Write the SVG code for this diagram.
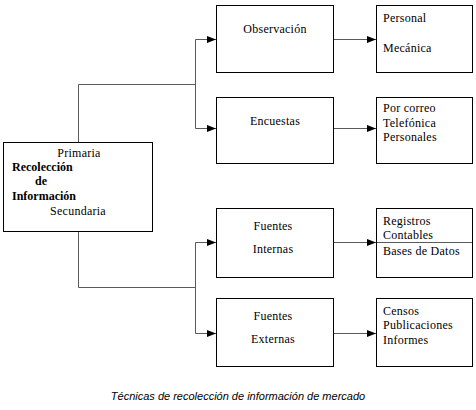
<svg xmlns="http://www.w3.org/2000/svg" width="476" height="410" viewBox="0 0 476 410">
<style>
.box{fill:#fff;stroke:#000;stroke-width:1}
.ln{fill:none;stroke:#5a5a5a;stroke-width:1}
.t{font-family:'Liberation Serif','Times New Roman',serif;font-size:12px;letter-spacing:0.25px;fill:#000}
.b{font-weight:bold;letter-spacing:0}
.c{text-anchor:middle}
.cap{font-family:'Liberation Sans',Arial,sans-serif;font-size:11px;font-style:italic;fill:#000}
</style>
<defs>
<marker id="ah" markerUnits="userSpaceOnUse" markerWidth="10" markerHeight="8" refX="9" refY="4" orient="auto">
<path d="M0,0.5 L9,4 L0,7.5 Z" fill="#000"/>
</marker>
</defs>
<rect width="476" height="410" fill="#fff"/>
<g id="connectors">
<path class="ln" d="M78.5,142 V84.5 H195.5"/>
<path class="ln" d="M195.5,39.5 V128.5"/>
<path class="ln" d="M195.5,39.5 H216" marker-end="url(#ah)"/>
<path class="ln" d="M195.5,128.5 H216" marker-end="url(#ah)"/>
<path class="ln" d="M78.5,232 V287.5 H195.5"/>
<path class="ln" d="M195.5,242.5 V333.5"/>
<path class="ln" d="M195.5,242.5 H216" marker-end="url(#ah)"/>
<path class="ln" d="M195.5,333.5 H216" marker-end="url(#ah)"/>
<path class="ln" d="M333,39.5 H376" marker-end="url(#ah)"/>
<path class="ln" d="M333,128.5 H376" marker-end="url(#ah)"/>
<path class="ln" d="M333,242.5 H376" marker-end="url(#ah)"/>
<path class="ln" d="M333,333.5 H376" marker-end="url(#ah)"/>
</g>
<g id="recoleccion">
<rect class="box" x="3.5" y="142.5" width="149" height="89"/>
<text class="t c" x="79" y="157">Primaria</text>
<text class="t b" x="12" y="171">Recolección</text>
<text class="t b" x="35" y="185">de</text>
<text class="t b" x="12" y="200">Información</text>
<text class="t c" x="78" y="215">Secundaria</text>
</g>
<g id="observacion">
<rect class="box" x="216.5" y="5.5" width="117" height="67"/>
<text class="t c" x="275" y="33">Observación</text>
</g>
<g id="encuestas">
<rect class="box" x="216.5" y="97.5" width="117" height="66"/>
<text class="t c" x="275" y="125">Encuestas</text>
</g>
<g id="fuentes-internas">
<rect class="box" x="216.5" y="208.5" width="117" height="69"/>
<text class="t c" x="273" y="230">Fuentes</text>
<text class="t c" x="273" y="253">Internas</text>
</g>
<g id="fuentes-externas">
<rect class="box" x="216.5" y="298.5" width="117" height="68"/>
<text class="t c" x="273" y="320">Fuentes</text>
<text class="t c" x="273" y="343">Externas</text>
</g>
<g id="obs-tipos">
<rect class="box" x="376.5" y="5.5" width="96" height="67"/>
<text class="t" x="383" y="22">Personal</text>
<text class="t" x="383" y="52">Mecánica</text>
</g>
<g id="enc-tipos">
<rect class="box" x="376.5" y="97.5" width="96" height="66"/>
<text class="t" x="383" y="112">Por correo</text>
<text class="t" x="383" y="127">Telefónica</text>
<text class="t" x="383" y="141">Personales</text>
</g>
<g id="int-tipos">
<rect class="box" x="376.5" y="208.5" width="96" height="69"/>
<line class="ln" x1="377" y1="242.5" x2="472" y2="242.5"/>
<text class="t" x="383" y="225">Registros</text>
<text class="t" x="383" y="239">Contables</text>
<text class="t" x="383" y="255">Bases de Datos</text>
</g>
<g id="ext-tipos">
<rect class="box" x="376.5" y="298.5" width="96" height="68"/>
<text class="t" x="383" y="315">Censos</text>
<text class="t" x="383" y="329">Publicaciones</text>
<text class="t" x="383" y="344">Informes</text>
</g>
<text class="cap" x="238" y="400" text-anchor="middle">Técnicas de recolección de información de mercado</text>
</svg>
